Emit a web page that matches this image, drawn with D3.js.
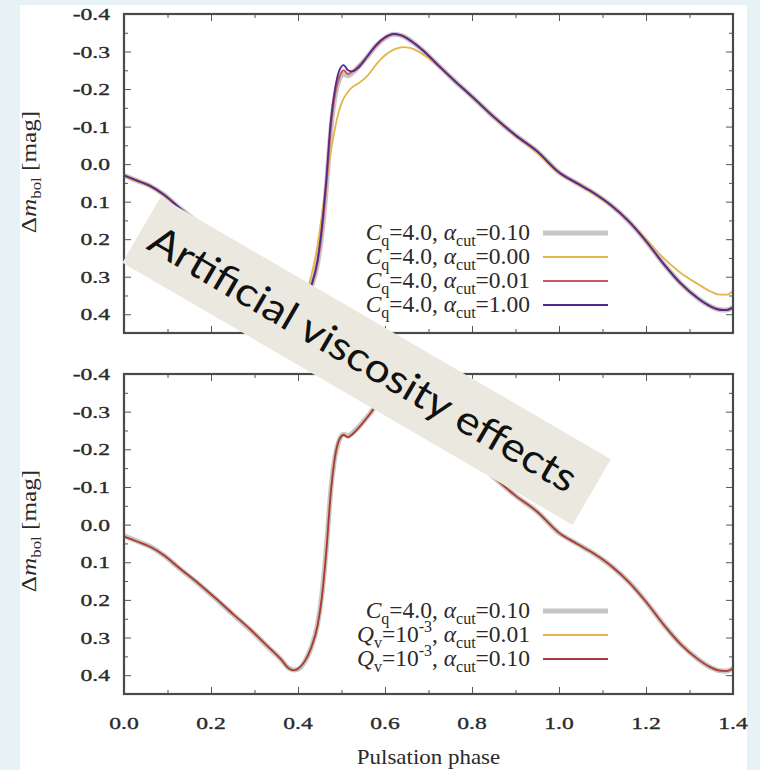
<!DOCTYPE html>
<html><head><meta charset="utf-8">
<script src="https://cdn.jsdelivr.net/npm/d3@7"></script>
<style>body{margin:0;background:#e6f2f6;} svg{display:block}</style>
</head><body><svg id="c" width="760" height="770"></svg>
<script>
// ---------------- data ----------------
const phase = [0.00,0.03,0.06,0.09,0.13,0.17,0.21,0.25,0.29,0.33,0.36,0.38,0.39,0.40,0.415,0.43,0.445,0.455,0.465,0.475,0.485,0.495,0.505,0.515,0.525,0.54,0.56,0.58,0.60,0.62,0.64,0.66,0.69,0.72,0.76,0.80,0.85,0.90,0.95,1.00,1.04,1.08,1.12,1.16,1.20,1.24,1.28,1.32,1.35,1.37,1.385,1.40];

// Cq=4.0, alpha_cut=0.10 (reference model, grey)
const refCq4a010 = [0.030,0.044,0.058,0.080,0.119,0.156,0.196,0.238,0.279,0.324,0.357,0.382,0.386,0.384,0.365,0.328,0.265,0.185,0.065,-0.085,-0.180,-0.225,-0.240,-0.235,-0.243,-0.260,-0.287,-0.316,-0.336,-0.346,-0.342,-0.328,-0.300,-0.266,-0.222,-0.180,-0.126,-0.077,-0.034,0.022,0.050,0.077,0.110,0.152,0.205,0.265,0.318,0.358,0.380,0.388,0.389,0.382];
// Cq=4.0, alpha_cut=0.00
const cq4a000 = [0.032,0.046,0.060,0.082,0.121,0.157,0.196,0.238,0.279,0.322,0.354,0.374,0.378,0.374,0.352,0.300,0.215,0.135,0.050,-0.030,-0.095,-0.145,-0.175,-0.193,-0.205,-0.216,-0.236,-0.266,-0.290,-0.305,-0.312,-0.309,-0.290,-0.264,-0.222,-0.180,-0.124,-0.075,-0.030,0.024,0.052,0.080,0.112,0.152,0.200,0.250,0.290,0.320,0.340,0.348,0.348,0.338];
// Cq=4.0, alpha_cut=0.01
const cq4a001 = [0.030,0.044,0.058,0.080,0.119,0.156,0.196,0.238,0.279,0.324,0.357,0.382,0.386,0.384,0.365,0.328,0.262,0.180,0.058,-0.092,-0.185,-0.232,-0.250,-0.240,-0.247,-0.262,-0.288,-0.316,-0.336,-0.346,-0.342,-0.328,-0.300,-0.266,-0.222,-0.180,-0.126,-0.077,-0.034,0.022,0.050,0.077,0.110,0.152,0.205,0.265,0.318,0.358,0.380,0.388,0.389,0.382];
// Cq=4.0, alpha_cut=1.00
const cq4a100 = [0.030,0.044,0.058,0.080,0.119,0.156,0.196,0.238,0.279,0.324,0.357,0.382,0.386,0.384,0.365,0.326,0.255,0.165,0.040,-0.110,-0.200,-0.250,-0.264,-0.250,-0.247,-0.258,-0.288,-0.318,-0.338,-0.347,-0.342,-0.328,-0.300,-0.266,-0.222,-0.180,-0.126,-0.077,-0.034,0.022,0.050,0.077,0.110,0.152,0.205,0.265,0.318,0.358,0.380,0.388,0.389,0.382];
// Qv=1e-3, alpha_cut=0.01
const qv3a001 = [0.032,0.045,0.059,0.080,0.118,0.155,0.195,0.237,0.278,0.323,0.357,0.383,0.387,0.383,0.364,0.328,0.268,0.192,0.072,-0.080,-0.180,-0.226,-0.238,-0.232,-0.240,-0.258,-0.286,-0.316,-0.336,-0.346,-0.342,-0.328,-0.300,-0.266,-0.222,-0.180,-0.126,-0.077,-0.034,0.022,0.050,0.077,0.110,0.152,0.205,0.265,0.318,0.358,0.380,0.388,0.389,0.382];
// Qv=1e-3, alpha_cut=0.10
const qv3a010 = [0.032,0.045,0.059,0.080,0.118,0.155,0.195,0.237,0.278,0.323,0.357,0.383,0.387,0.383,0.364,0.328,0.268,0.192,0.072,-0.080,-0.180,-0.226,-0.238,-0.232,-0.240,-0.258,-0.286,-0.316,-0.336,-0.346,-0.342,-0.328,-0.300,-0.266,-0.222,-0.180,-0.126,-0.077,-0.034,0.022,0.050,0.077,0.110,0.152,0.205,0.265,0.318,0.358,0.380,0.388,0.389,0.382];

const xTicks = [0,0.2,0.4,0.6,0.8,1.0,1.2,1.4];
const xTickLabels = ["0.0","0.2","0.4","0.6","0.8","1.0","1.2","1.4"];
const xMinor = [0.1,0.3,0.5,0.7,0.9,1.1,1.3];
const yTicks = [-0.4,-0.3,-0.2,-0.1,0.0,0.1,0.2,0.3,0.4];
const yTickLabels = ["-0.4","-0.3","-0.2","-0.1","0.0","0.1","0.2","0.3","0.4"];
const yMinor = [-0.35,-0.25,-0.15,-0.05,0.05,0.15,0.25,0.35];

const topSeries = [
  {values:refCq4a010, color:"#c6c6c6", width:5},
  {values:cq4a000, color:"#e2b64a", width:1.8},
  {values:cq4a001, color:"#c9585f", width:2},
  {values:cq4a100, color:"#56288a", width:1.8}
];
const botSeries = [
  {values:refCq4a010, color:"#c6c6c6", width:5},
  {values:qv3a001, color:"#e2b64a", width:1.8},
  {values:qv3a010, color:"#a83a3a", width:1.8}
];
// legend rich-text pieces
const topLegendText = [
  [["C","i"],["q","sub"],["=4.0, ",""],["α","i"],["cut","sub"],["=0.10",""]],
  [["C","i"],["q","sub"],["=4.0, ",""],["α","i"],["cut","sub"],["=0.00",""]],
  [["C","i"],["q","sub"],["=4.0, ",""],["α","i"],["cut","sub"],["=0.01",""]],
  [["C","i"],["q","sub"],["=4.0, ",""],["α","i"],["cut","sub"],["=1.00",""]]
];
const botLegendText = [
  [["C","i"],["q","sub"],["=4.0, ",""],["α","i"],["cut","sub"],["=0.10",""]],
  [["Q","i"],["v","sub"],["=10",""],["-3","sup"],[", ",""],["α","i"],["cut","sub"],["=0.01",""]],
  [["Q","i"],["v","sub"],["=10",""],["-3","sup"],[", ",""],["α","i"],["cut","sub"],["=0.10",""]]
];

// ---------------- drawing ----------------
const svg = d3.select("#c");
svg.append("rect").attr("width",760).attr("height",770).attr("fill","#e6f2f6");
svg.append("rect").attr("x",20).attr("y",5).attr("width",727).attr("height",765).attr("fill","#ffffff");

const x = d3.scaleLinear().domain([0,1.4]).range([124,733]);
const serif = "Liberation Serif, Times New Roman, serif";
const SX = 1.35;
const ink = "#2a2a2a";

const panels = [
  {top:14, bottom:333, series:topSeries, legend:topLegendText, legY:233, yLabel:172},
  {top:374, bottom:694, series:botSeries, legend:botLegendText, legY:611, yLabel:531}
];

panels.forEach((P,pi)=>{
  const y = d3.scaleLinear().domain([-0.4,0.45]).range([P.top,P.bottom]);
  const g = svg.append("g");
  const clipId = "clip"+pi;
  svg.append("clipPath").attr("id",clipId).append("rect")
    .attr("x",x(0)).attr("y",P.top).attr("width",x(1.4)-x(0)).attr("height",P.bottom-P.top);

  const mk = (axis, tr)=> {
    const a = g.append("g").attr("transform",tr).call(axis);
    a.select(".domain").remove();
    a.selectAll("text").remove();
    a.selectAll("line").attr("stroke","#555").attr("stroke-width",1);
  };
  mk(d3.axisLeft(y).tickValues(yTicks).tickSize(-7), `translate(${x(0)},0)`);
  mk(d3.axisLeft(y).tickValues(yMinor).tickSize(-4), `translate(${x(0)},0)`);
  mk(d3.axisRight(y).tickValues(yTicks).tickSize(-7), `translate(${x(1.4)},0)`);
  mk(d3.axisRight(y).tickValues(yMinor).tickSize(-4), `translate(${x(1.4)},0)`);
  mk(d3.axisBottom(x).tickValues(xTicks).tickSize(-7), `translate(0,${P.bottom})`);
  mk(d3.axisBottom(x).tickValues(xMinor).tickSize(-4), `translate(0,${P.bottom})`);
  mk(d3.axisTop(x).tickValues(xTicks).tickSize(-7), `translate(0,${P.top})`);
  mk(d3.axisTop(x).tickValues(xMinor).tickSize(-4), `translate(0,${P.top})`);

  // y tick labels
  g.selectAll(".ylab").data(yTicks).enter().append("text")
    .attr("transform",(d)=>`translate(110,${y(d)+6}) scale(${SX},1)`)
    .attr("text-anchor","end").attr("font-family",serif).attr("font-size",17.5)
    .attr("fill",ink).attr("stroke",ink).attr("stroke-width",0.35).text((d,i)=>yTickLabels[i]);

  // y axis label
  const yl = g.append("text")
    .attr("transform",`translate(36,${P.yLabel}) rotate(-90) scale(1.2,1)`)
    .attr("text-anchor","middle").attr("font-family",serif).attr("font-size",21).attr("fill",ink);
  yl.append("tspan").text("Δ");
  yl.append("tspan").attr("font-style","italic").text("m");
  yl.append("tspan").attr("font-size",14).attr("dy",5).text("bol");
  yl.append("tspan").attr("dy",-5).text(" [mag]");

  // curves
  const line = d3.line().x((d,i)=>x(phase[i])).y(d=>y(d)).curve(d3.curveMonotoneX);
  const cg = g.append("g").attr("clip-path",`url(#${clipId})`);
  P.series.forEach(s=>{
    cg.append("path").attr("d",line(s.values)).attr("fill","none")
      .attr("stroke",s.color).attr("stroke-width",s.width).attr("stroke-linejoin","round");
  });

  // legend
  P.series.forEach((s,i)=>{
    const ly = P.legY + i*24;
    g.append("line").attr("x1",543).attr("x2",608).attr("y1",ly).attr("y2",ly)
      .attr("stroke",s.color).attr("stroke-width",s.width);
    const t = g.append("text").attr("x",530).attr("y",ly+7).attr("text-anchor","end")
      .attr("font-family",serif).attr("font-size",23.5).attr("fill",ink);
    let shift = 0;
    P.legend[i].forEach(([txt,kind])=>{
      const ts = t.append("tspan").text(txt);
      let target = 0;
      if(kind==="i") ts.attr("font-style","italic");
      if(kind==="sub"){ ts.attr("font-size",16); target = 6; }
      if(kind==="sup"){ ts.attr("font-size",16); target = -10; }
      ts.attr("dy", target-shift); shift = target;
    });
  });

  // frame
  g.append("rect").attr("x",x(0)).attr("y",P.top).attr("width",x(1.4)-x(0)).attr("height",P.bottom-P.top)
    .attr("fill","none").attr("stroke","#4a4a4a").attr("stroke-width",2.2);
});

// x tick labels and axis title
svg.selectAll(".xlab").data(xTicks).enter().append("text")
  .attr("transform",(d)=>`translate(${x(d)},729) scale(${SX},1)`)
  .attr("text-anchor","middle").attr("font-family",serif).attr("font-size",17.5)
  .attr("fill",ink).attr("stroke",ink).attr("stroke-width",0.35).text((d,i)=>xTickLabels[i]);
svg.append("text").attr("transform",`translate(${(x(0)+x(1.4))/2},764) scale(1.12,1)`)
  .attr("text-anchor","middle").attr("font-family",serif).attr("font-size",20.5)
  .attr("fill",ink).text("Pulsation phase");

// diagonal banner
const banner = svg.append("g").attr("transform","translate(366.6,361) rotate(30.2)");
banner.append("rect").attr("x",-260.5).attr("y",-38).attr("width",521).attr("height",76).attr("fill","#ebe9df");
banner.append("text").attr("x",-4).attr("y",14).attr("text-anchor","middle")
  .attr("font-family","Lato, Open Sans, sans-serif").attr("font-size",40).attr("fill","#111")
  .attr("textLength",488).attr("lengthAdjust","spacingAndGlyphs")
  .text("Artificial viscosity effects");
</script>
</body></html>
